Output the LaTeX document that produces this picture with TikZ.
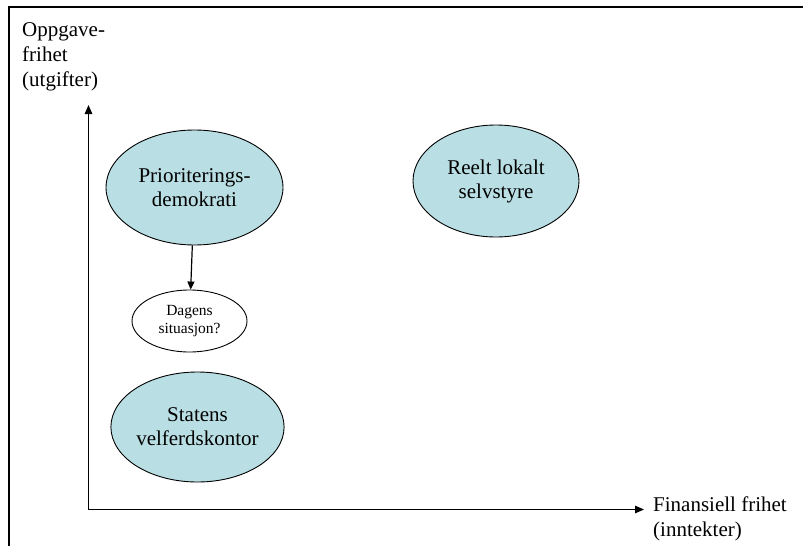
\documentclass[tikz,border=0pt]{standalone}
\usepackage{fontspec}
\setmainfont{Liberation Serif}
\usetikzlibrary{shapes.geometric,arrows.meta}
\definecolor{bluefill}{RGB}{185,223,228}
\tikzset{
  bigell/.style={ellipse, draw=black, line width=0.9pt, fill=bluefill, inner sep=0pt, align=center,
    font=\fontsize{21}{24}\selectfont},
  smallell/.style={ellipse, draw=black, line width=0.9pt, fill=white, inner sep=0pt, align=center,
    font=\fontsize{15.5}{18.5}\selectfont},
  axislabel/.style={inner sep=0pt, align=left, font=\fontsize{21}{25}\selectfont},
  axisarrow/.style={line width=1.4pt, -{Triangle[length=9pt,width=7.5pt]}},
  linkarrow/.style={line width=1.2pt, -{Triangle[length=8pt,width=7pt]}}
}
\begin{document}
\begin{tikzpicture}[x=1pt,y=-1pt]
\useasboundingbox (0,0) rectangle (803,546);
% frame
\draw[line width=2pt, line cap=rect] (8.5,546) -- (8.5,7) -- (803,7);
% axes
\coordinate (origin) at (88.5,509.5);
\coordinate (ytip) at (88.5,105);
\coordinate (xtip) at (644,509.5);
\draw[axisarrow] (origin) -- (ytip);
\draw[axisarrow] (origin) -- (xtip);
% labels
\node[axislabel, anchor=north west] (ylab) at (22,22) {Oppgave-\\frihet\\(utgifter)};
\node[axislabel, anchor=north west] (xlab) at (653,497) {Finansiell frihet\\(inntekter)};
% ellipses
\node[bigell, minimum width=177pt, minimum height=115pt] (prio) at (194.5,187.5) {Prioriterings-\\demokrati};
\node[bigell, minimum width=166pt, minimum height=112pt] (reelt) at (496,181) {Reelt lokalt\\selvstyre};
\node[bigell, minimum width=163pt, minimum height=110pt] (statens) at (197.5,427) {Statens\\velferdskontor};
\node[smallell, minimum width=115pt, minimum height=62pt] (dagens) at (189.5,321) {Dagens\\situasjon?};
\draw[linkarrow] (prio) -- (dagens);
\end{tikzpicture}
\end{document}
